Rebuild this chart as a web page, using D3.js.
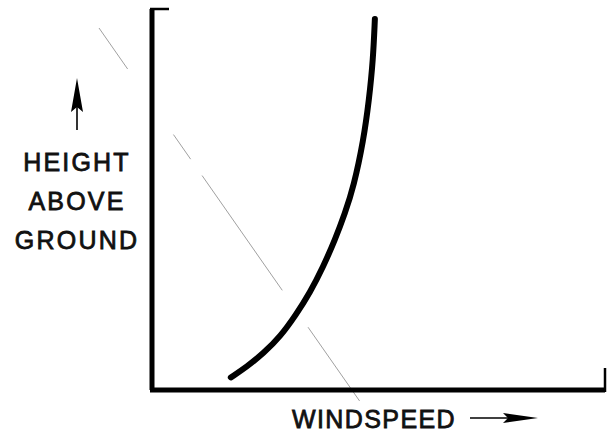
<!DOCTYPE html>
<html>
<head>
<meta charset="utf-8">
<script src="https://cdn.jsdelivr.net/npm/d3@7"></script>
<style>
  html, body { margin: 0; padding: 0; background: #fff; }
  svg { display: block; }
  text { font-family: "Liberation Sans", Arial, sans-serif; fill: #111; }
</style>
</head>
<body>
<svg id="chart" width="611" height="434"></svg>
<script>
// Wind speed profile (arbitrary units, 0-100)
const windspeed = [17.4, 20.9, 24.6, 28.3, 31.7, 34.9, 37.8, 40.4, 42.6, 44.5, 46.7, 47.9, 48.8, 49.2];
const height    = [3.3, 6.1, 9.6, 14.0, 19.6, 25.6, 32.4, 39.4, 46.4, 53.3, 65.6, 76.1, 86.6, 97.4];
const yLabelLines = ["HEIGHT", "ABOVE", "GROUND"];
const xLabel = "WINDSPEED";

const svg = d3.select("#chart");
const x = d3.scaleLinear().domain([0, 100]).range([152, 605]);
const y = d3.scaleLinear().domain([0, 100]).range([390, 9]);

// faint scan artifact line
svg.append("line")
  .attr("x1", 99).attr("y1", 28).attr("x2", 361).attr("y2", 403)
  .attr("stroke", "#888").attr("stroke-width", 0.8)
  .attr("stroke-dasharray", "50,80,30,20,140,45,90,200");

// Y axis (left) with top tick
svg.append("path")
  .attr("d", `M${x(0)},${y(0)} L${x(0)},${y(100)}`)
  .attr("stroke", "#000").attr("stroke-width", 5).attr("fill", "none");
svg.append("path")
  .attr("d", `M${x(0) - 2},${y(100)} L${x(0) + 17},${y(100)}`)
  .attr("stroke", "#000").attr("stroke-width", 2.5).attr("fill", "none");
// X axis (bottom) with right tick
svg.append("path")
  .attr("d", `M${x(0) - 2},${y(0)} L${x(100)},${y(0)}`)
  .attr("stroke", "#000").attr("stroke-width", 5).attr("fill", "none");
svg.append("path")
  .attr("d", `M${x(100)},${y(0) + 2} L${x(100)},${y(0) - 22}`)
  .attr("stroke", "#000").attr("stroke-width", 2.5).attr("fill", "none");

// Profile curve
const pts = windspeed.map((w, i) => [w, height[i]]);
const line = d3.line().x(d => x(d[0])).y(d => y(d[1])).curve(d3.curveBasis);
svg.append("path")
  .datum(pts)
  .attr("d", line)
  .attr("stroke", "#000").attr("stroke-width", 6)
  .attr("stroke-linecap", "round")
  .attr("fill", "none");

// Y label
const yl = svg.append("g");
yLabelLines.forEach((t, i) => {
  yl.append("text")
    .attr("x", 77).attr("y", 171 + i * 39)
    .attr("text-anchor", "middle")
    .attr("font-size", 25)
    .attr("letter-spacing", 2.2)
    .attr("stroke", "#111").attr("stroke-width", 0.8)
    .text(t);
});
// up arrow
svg.append("line")
  .attr("x1", 77).attr("y1", 130).attr("x2", 77).attr("y2", 100)
  .attr("stroke", "#000").attr("stroke-width", 1.6);
svg.append("path")
  .attr("d", "M77,78 L71,112 L77,107 L83,112 Z")
  .attr("fill", "#000");

// X label
svg.append("text")
  .attr("x", 292).attr("y", 428)
  .attr("font-size", 25)
  .attr("letter-spacing", 1.4)
  .attr("stroke", "#111").attr("stroke-width", 0.8)
  .text(xLabel);
// right arrow
svg.append("line")
  .attr("x1", 470).attr("y1", 418).attr("x2", 510).attr("y2", 418)
  .attr("stroke", "#000").attr("stroke-width", 1.6);
svg.append("path")
  .attr("d", "M538,418 L503,413 L508,418 L503,423 Z")
  .attr("fill", "#000");
</script>
</body>
</html>
